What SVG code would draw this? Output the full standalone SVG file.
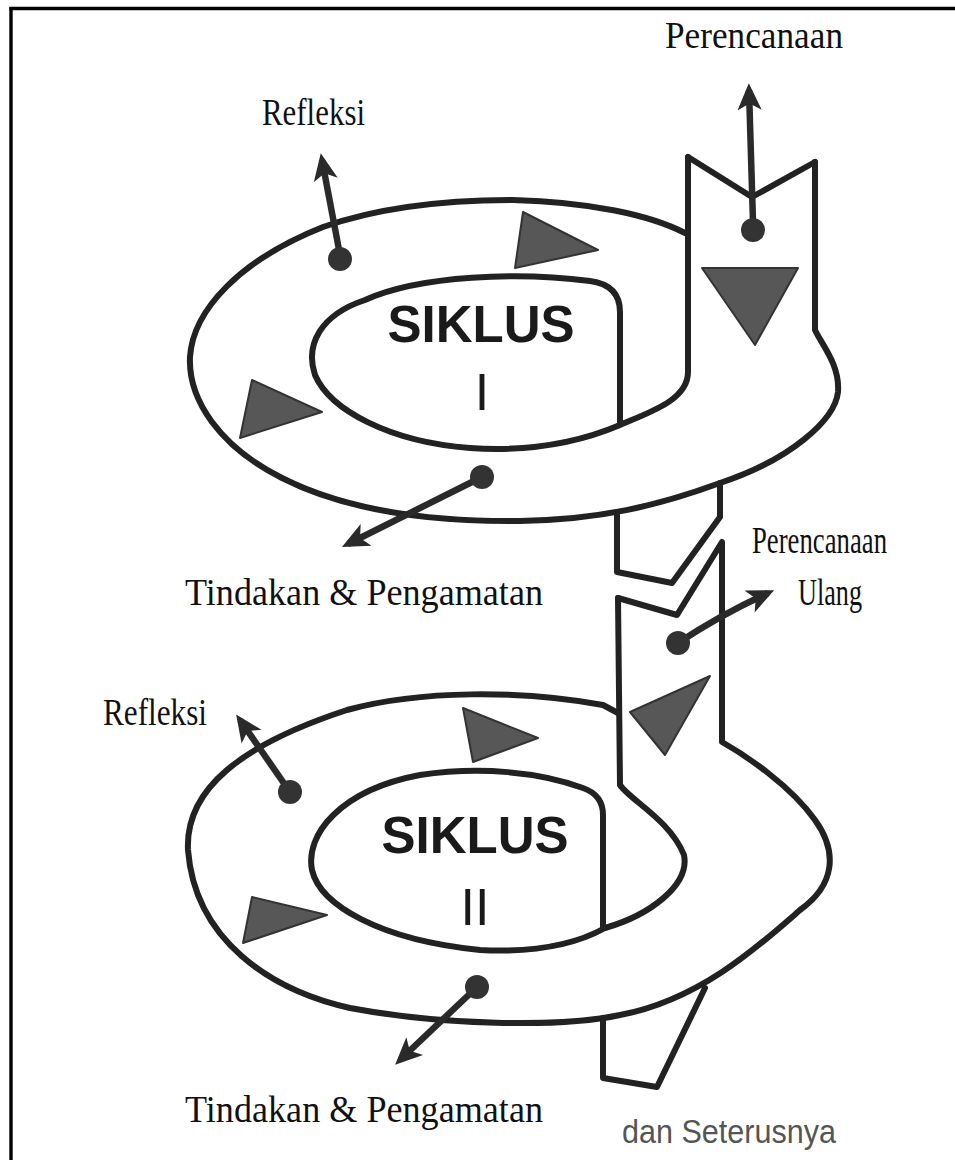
<svg xmlns="http://www.w3.org/2000/svg" width="955" height="1160" viewBox="0 0 955 1160">
<style>
.ln{fill:none;stroke:#222;stroke-width:6;stroke-linejoin:round;stroke-linecap:round}
.tri{fill:#575757;stroke:#333;stroke-width:2;stroke-linejoin:round}
.ball{fill:#333}
.arr{fill:none;stroke:#2a2a2a;stroke-width:6.5;marker-end:url(#ah)}
.lbl{font-family:"Liberation Serif","Times New Roman",serif;font-size:37px;fill:#111}
.sik{font-family:"Liberation Sans",Arial,sans-serif;font-size:51px;font-weight:bold;fill:#1a1a1a;text-anchor:middle}
.num{font-family:"Liberation Sans",Arial,sans-serif;font-size:52px;fill:#1a1a1a;text-anchor:middle}
.note{font-family:"Liberation Sans",Arial,sans-serif;font-size:34px;fill:#555}
</style>
<defs>
<marker id="ah" viewBox="0 0 20 20" refX="15" refY="10" markerWidth="27" markerHeight="27" markerUnits="userSpaceOnUse" orient="auto">
<path d="M0,1 L20,10 L0,19 L5,10 z" fill="#2a2a2a"/>
</marker>
</defs>
<rect x="0" y="0" width="955" height="1160" fill="#ffffff"/>
<g id="frame">
<line x1="9.5" y1="8.5" x2="955" y2="8.5" stroke="#000" stroke-width="3.4"/>
<line x1="11" y1="7" x2="11" y2="1160" stroke="#000" stroke-width="3.4"/>
</g>
<g id="siklus1">
<path class="ln" d="M815 162 L815 330 C822 345 840 365 838 392 C835 420 790 460 720 483 C660 505 600 520 520 521 C430 522 345 510 282 478 C220 447 188 400 190 357 C193 310 240 260 323 227 C380 207 450 200 513 200 C590 202 650 215 685 233"/>
<path class="ln" d="M688 157 L688 372 C688 400 650 412 620 425 C580 442 530 452 470 448 C390 442 330 410 315 375 C305 345 320 315 365 300 C420 275 520 272 590 281 Q620 285 620 312 L620 425"/>
<path class="ln" d="M688 157 L752 197 L815 162"/>
<path class="ln" d="M617 513 L617 572 L672 583 L720 517 L720 483"/>
<polygon class="tri" points="523,212 598,250 515,268"/>
<polygon class="tri" points="252,380 322,412 240,438"/>
<polygon class="tri" points="702,268 798,268 755,345"/>
<text class="sik" x="481" y="342">SIKLUS</text>
<text class="num" x="482" y="410">I</text>
</g>
<g id="siklus2">
<path class="ln" d="M618 598 L677 615 L722 542 L722 742 C745 755 790 785 815 820 C838 852 835 885 800 910 C760 945 700 1000 620 1015 C560 1028 440 1025 350 1008 C270 990 195 940 188 850 C185 790 240 745 347 710 C420 690 520 690 603 705 L618 713"/>
<path class="ln" d="M618 598 L620 785 C630 800 670 820 684 855 C690 885 650 915 605 928"/>
<path class="ln" d="M603 928 L603 815 Q603 795 583 788 C540 772 480 766 420 775 C340 790 305 835 312 870 C320 905 380 940 480 950 C540 953 580 942 605 928"/>
<path class="ln" d="M603 1018 L603 1078 L657 1087 L705 988"/>
<polygon class="tri" points="463,708 538,738 473,762"/>
<polygon class="tri" points="252,897 327,915 243,943"/>
<polygon class="tri" points="710,676 630,712 665,755"/>
<text class="sik" x="475" y="853">SIKLUS</text>
<text class="num" x="475" y="925">II</text>
</g>
<g id="connectors">
<path class="arr" d="M753 222 L749 90"/>
<circle class="ball" cx="753" cy="230" r="12"/>
<path class="arr" d="M340 255 L322 160"/>
<circle class="ball" cx="340" cy="259" r="12"/>
<path class="arr" d="M482 477 L348 544"/>
<circle class="ball" cx="482" cy="477" r="12"/>
<path class="arr" d="M678 643 Q720 615 768 593"/>
<circle class="ball" cx="678" cy="643" r="12"/>
<path class="arr" d="M290 792 L240 720"/>
<circle class="ball" cx="290" cy="792" r="12"/>
<path class="arr" d="M477 987 L400 1060"/>
<circle class="ball" cx="477" cy="987" r="12"/>
</g>
<g id="labels">
<text class="lbl" x="665" y="48" textLength="178" lengthAdjust="spacingAndGlyphs">Perencanaan</text>
<text class="lbl" x="262" y="125" textLength="103" lengthAdjust="spacingAndGlyphs">Refleksi</text>
<text class="lbl" x="185" y="605" textLength="358" lengthAdjust="spacingAndGlyphs">Tindakan &amp; Pengamatan</text>
<text class="lbl" x="752" y="553" textLength="135" lengthAdjust="spacingAndGlyphs">Perencanaan</text>
<text class="lbl" x="798" y="605" textLength="64" lengthAdjust="spacingAndGlyphs">Ulang</text>
<text class="lbl" x="103" y="725" textLength="104" lengthAdjust="spacingAndGlyphs">Refleksi</text>
<text class="lbl" x="185" y="1122" textLength="358" lengthAdjust="spacingAndGlyphs">Tindakan &amp; Pengamatan</text>
<text class="note" x="622" y="1143" textLength="214" lengthAdjust="spacingAndGlyphs">dan Seterusnya</text>
</g>
</svg>
